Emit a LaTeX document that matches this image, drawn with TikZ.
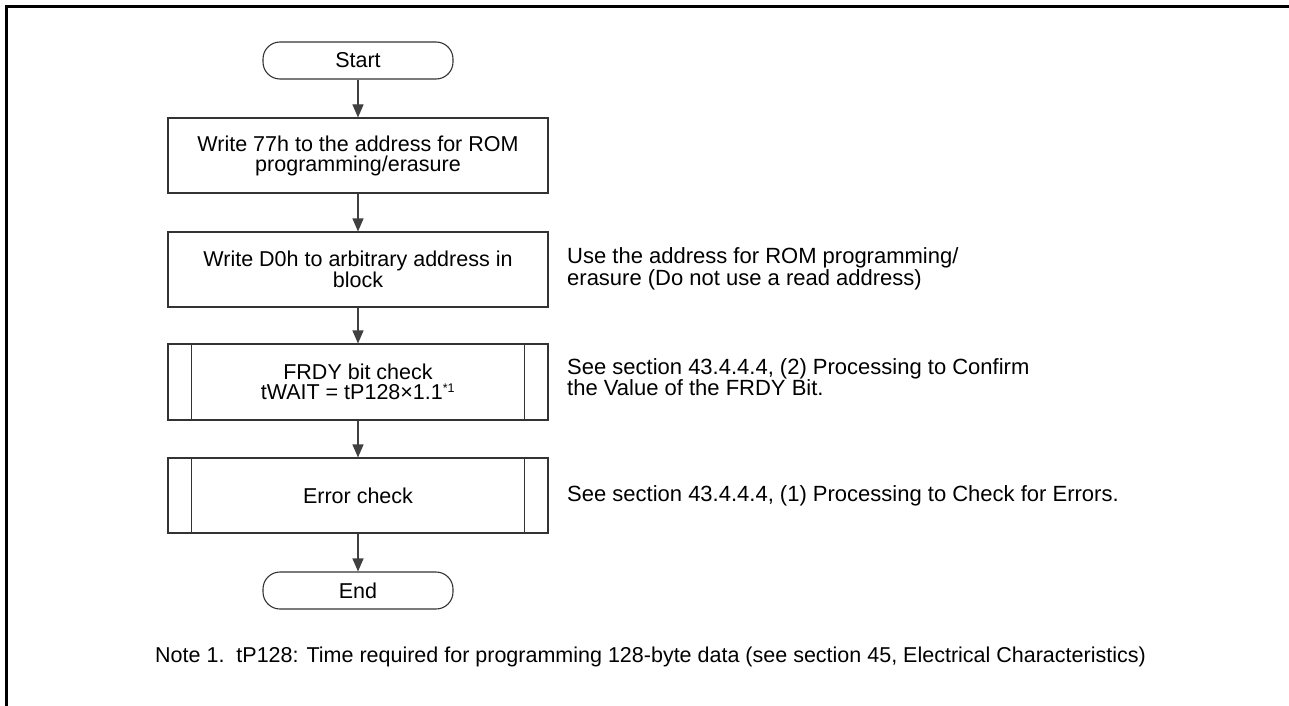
\documentclass[tikz,border=0pt]{standalone}
\usepackage{fontspec}
\setmainfont{Liberation Sans}
\usetikzlibrary{arrows.meta}
\begin{document}
\begin{tikzpicture}[x=1pt,y=-1pt,
  every node/.style={font=\fontsize{21.5}{20}\selectfont, text=black},
  boxst/.style={draw=black!80, line width=1.1pt, minimum width=380pt, minimum height=75pt, align=center, inner sep=0pt},
  termst/.style={draw=black!80, line width=1.1pt, minimum width=190pt, minimum height=37pt, rounded corners=17pt, inner sep=0pt},
  sidest/.style={anchor=west, align=left, inner sep=0pt, font=\fontsize{22}{19.5}\selectfont},
  flow/.style={draw=black!75, line width=1.1pt, -{Triangle[length=13pt,width=11pt]}},
  framest/.style={line width=3pt, black}
]
\useasboundingbox (0,0) rectangle (1289,706);
\draw[framest] (1289,6.5) -- (6.5,6.5) -- (6.5,706);

\node[termst] (start) at (358,60.5) {Start};
\node[boxst] (b1) at (358,155.5) {Write 77h to the address for ROM\\programming/erasure};
\node[boxst] (b2) at (358,269.5) {Write D0h to arbitrary address in\\block};
\node[boxst, minimum height=76pt] (b3) at (358,382) {FRDY bit check\\tWAIT = tP128×1.1\textsuperscript{\fontsize{12.5}{12}\selectfont *1}};
\node[boxst] (b4) at (358,495.5) {Error check};
\node[termst] (end) at (358,590.5) {End};

\foreach \n in {b3,b4}{
  \draw[draw=black!80, line width=1.1pt] ([xshift=24pt]\n.north west) -- ([xshift=24pt]\n.south west);
  \draw[draw=black!80, line width=1.1pt] ([xshift=-24pt]\n.north east) -- ([xshift=-24pt]\n.south east);
}

\draw[flow] (start) -- (b1);
\draw[flow] (b1) -- (b2);
\draw[flow] (b2) -- (b3);
\draw[flow] (b3) -- (b4);
\draw[flow] (b4) -- (end);

\node[sidest] (s2) at (567,269) {Use the address for ROM programming/\\erasure (Do not use a read address)};
\node[sidest] (s3) at (567,377) {See section 43.4.4.4, (2) Processing to Confirm\\the Value of the FRDY Bit.};
\node[sidest] (s4) at (567,495.5) {See section 43.4.4.4, (1) Processing to Check for Errors.};

\node[anchor=west, inner sep=0pt] (note) at (155,657) {Note 1.\ \ tP128: Time required for programming 128-byte data (see section 45, Electrical Characteristics)};
\end{tikzpicture}
\end{document}
